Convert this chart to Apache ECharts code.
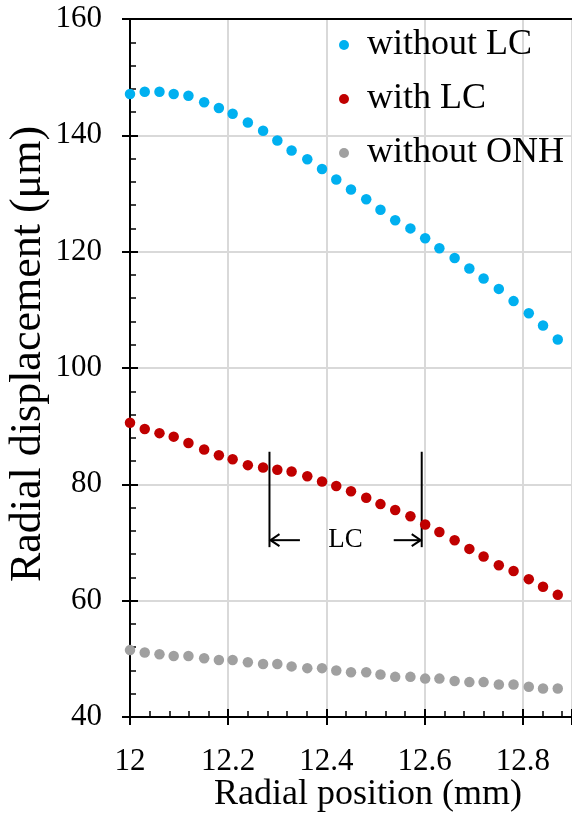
<!DOCTYPE html>
<html>
<head>
<meta charset="utf-8">
<script src="https://cdn.jsdelivr.net/npm/echarts@6/dist/echarts.min.js"></script>
<style>
    html, body { margin: 0; padding: 0; background: #fff; }
    #chart { width: 572px; height: 817px; }
</style>
</head>
<body>
<div id="chart"></div>
<script>
// radial positions (mm) of the nodes
var positions = [12.000, 12.030, 12.060, 12.089, 12.119, 12.151, 12.181, 12.209, 12.240, 12.271,
                 12.300, 12.329, 12.361, 12.391, 12.420, 12.450, 12.481, 12.510, 12.540, 12.571,
                 12.601, 12.630, 12.661, 12.691, 12.720, 12.751, 12.781, 12.812, 12.841, 12.871];
// radial displacement (um)
var withoutLC = [147.1, 147.5, 147.5, 147.1, 146.8, 145.7, 144.7, 143.7, 142.2, 140.8,
                 139.1, 137.4, 135.9, 134.2, 132.4, 130.7, 129.0, 127.2, 125.4, 124.0,
                 122.3, 120.6, 118.9, 117.1, 115.4, 113.6, 111.5, 109.4, 107.3, 104.9];
var withLC = [90.6, 89.5, 88.8, 88.2, 87.1, 86.0, 85.0, 84.3, 83.3, 82.9,
              82.5, 82.2, 81.4, 80.5, 79.7, 78.8, 77.7, 76.6, 75.6, 74.5,
              73.1, 71.8, 70.4, 68.9, 67.6, 66.1, 65.1, 63.7, 62.4, 61.0];
var withoutONH = [51.5, 51.1, 50.8, 50.5, 50.5, 50.1, 49.8, 49.8, 49.4, 49.1,
                  49.1, 48.7, 48.4, 48.4, 48.0, 47.7, 47.7, 47.3, 46.9, 46.9,
                  46.6, 46.6, 46.2, 46.0, 46.0, 45.6, 45.6, 45.2, 44.9, 44.9];
var seriesNames = ['without LC', 'with LC', 'without ONH'];
// LC span annotation
var lcRange = [12.284, 12.594];
var lcBar = [69.2, 85.6];
var lcArrowY = 70.4;
var lcArrowTail = [12.346, 12.537];

var font = "'Liberation Serif', 'Times New Roman', serif";
var xMin = 12, xMax = 12.9, yMin = 40, yMax = 160;

function pairs(xs, ys) {
    var out = [];
    for (var i = 0; i < xs.length; i++) out.push([xs[i], ys[i]]);
    return out;
}

function renderLC(params, api) {
    var top = api.coord([lcRange[0], lcBar[1]]);
    var bot = api.coord([lcRange[0], lcBar[0]]);
    var r1 = api.coord([lcRange[1], lcBar[1]]);
    var tipL = api.coord([lcRange[0], lcArrowY]);
    var tailL = api.coord([lcArrowTail[0], lcArrowY]);
    var tipR = api.coord([lcRange[1], lcArrowY]);
    var tailR = api.coord([lcArrowTail[1], lcArrowY]);
    var mid = api.coord([(lcRange[0] + lcRange[1]) / 2, lcArrowY]);
    var ls = { stroke: '#000', lineWidth: 2, fill: null };
    return {
        type: 'group',
        children: [
            { type: 'line', shape: { x1: top[0], y1: top[1], x2: bot[0], y2: bot[1] }, style: ls },
            { type: 'line', shape: { x1: r1[0], y1: r1[1], x2: r1[0], y2: bot[1] }, style: ls },
            { type: 'line', shape: { x1: tailL[0], y1: tailL[1], x2: tipL[0] + 1, y2: tipL[1] }, style: ls },
            { type: 'polyline', shape: { points: [[tipL[0] + 10, tipL[1] - 6], [tipL[0] + 1, tipL[1]], [tipL[0] + 10, tipL[1] + 6]] }, style: ls },
            { type: 'line', shape: { x1: tailR[0], y1: tailR[1], x2: tipR[0] - 1, y2: tipR[1] }, style: ls },
            { type: 'polyline', shape: { points: [[tipR[0] - 10, tipR[1] - 6], [tipR[0] - 1, tipR[1]], [tipR[0] - 10, tipR[1] + 6]] }, style: ls },
            { type: 'text', x: mid[0], y: mid[1], style: { text: 'LC', font: '27px ' + font, fill: '#000', align: 'center', verticalAlign: 'middle' } }
        ]
    };
}

// bare axis that only adds the outer half of the major ticks
function outerTicks(pos, min, max, interval) {
    return {
        type: 'value',
        position: pos,
        min: min,
        max: max,
        interval: interval,
        axisLine: { show: false },
        axisTick: { show: true, inside: false, length: 8, lineStyle: { color: '#000', width: 2 } },
        axisLabel: { show: false },
        splitLine: { show: false }
    };
}

var chart = echarts.init(document.getElementById('chart'));
chart.setOption({
    animation: false,
    backgroundColor: '#fff',
    grid: { left: 130, top: 19, width: 447, height: 698 },
    legend: {
        data: seriesNames,
        orient: 'vertical',
        left: 339,
        top: 27,
        padding: 0,
        icon: 'circle',
        itemWidth: 36,
        itemHeight: 10,
        itemGap: 18,
        textStyle: { fontFamily: font, fontSize: 36, color: '#000', lineHeight: 36 }
    },
    xAxis: [{
        type: 'value',
        min: xMin,
        max: xMax,
        interval: 0.2,
        axisLine: { lineStyle: { color: '#000', width: 2 } },
        axisTick: { inside: true, length: 8, lineStyle: { color: '#000', width: 2 } },
        minorTick: { show: true, splitNumber: 5, length: 6, lineStyle: { color: '#000', width: 1.5 } },
        axisLabel: { margin: 29, showMaxLabel: false, fontFamily: font, fontSize: 31, color: '#000' },
        splitLine: { show: true, lineStyle: { color: '#d9d9d9', width: 2 } }
    },
        outerTicks('bottom', xMin, xMax, 0.2),
    {
        type: 'value',
        position: 'top',
        min: xMin,
        max: xMax,
        axisLine: { show: true, lineStyle: { color: '#000', width: 2 } },
        axisTick: { show: false },
        axisLabel: { show: false },
        splitLine: { show: false }
    }],
    yAxis: [{
        type: 'value',
        min: yMin,
        max: yMax,
        interval: 20,
        axisLine: { show: true, lineStyle: { color: '#000', width: 2 } },
        axisTick: { show: true, inside: true, length: 8, lineStyle: { color: '#000', width: 2 } },
        minorTick: { show: true, splitNumber: 5, length: 6, lineStyle: { color: '#000', width: 1.5 } },
        axisLabel: { margin: 28, fontFamily: font, fontSize: 31, color: '#000' },
        splitLine: { show: true, showMaxLine: false, lineStyle: { color: '#d9d9d9', width: 2 } }
    },
        outerTicks('left', yMin, yMax, 20)
    ],
    graphic: [{
        type: 'text',
        x: 28,
        y: 354,
        rotation: Math.PI / 2,
        style: { text: 'Radial displacement (μm)', font: '44px ' + font, fill: '#000', align: 'center', verticalAlign: 'middle' }
    }, {
        type: 'text',
        x: 368,
        y: 795,
        style: { text: 'Radial position (mm)', font: '36px ' + font, fill: '#000', align: 'center', verticalAlign: 'middle' }
    }],
    series: [{
        name: seriesNames[0],
        type: 'scatter',
        symbolSize: 10.5,
        itemStyle: { color: '#00b0f0', opacity: 1 },
        data: pairs(positions, withoutLC)
    }, {
        name: seriesNames[1],
        type: 'scatter',
        symbolSize: 10.5,
        itemStyle: { color: '#c00000', opacity: 1 },
        data: pairs(positions, withLC)
    }, {
        name: seriesNames[2],
        type: 'scatter',
        symbolSize: 10.5,
        itemStyle: { color: '#a0a0a0', opacity: 1 },
        data: pairs(positions, withoutONH)
    }, {
        type: 'custom',
        silent: true,
        renderItem: renderLC,
        data: [[lcRange[0], lcArrowY]]
    }]
});
</script>
</body>
</html>
